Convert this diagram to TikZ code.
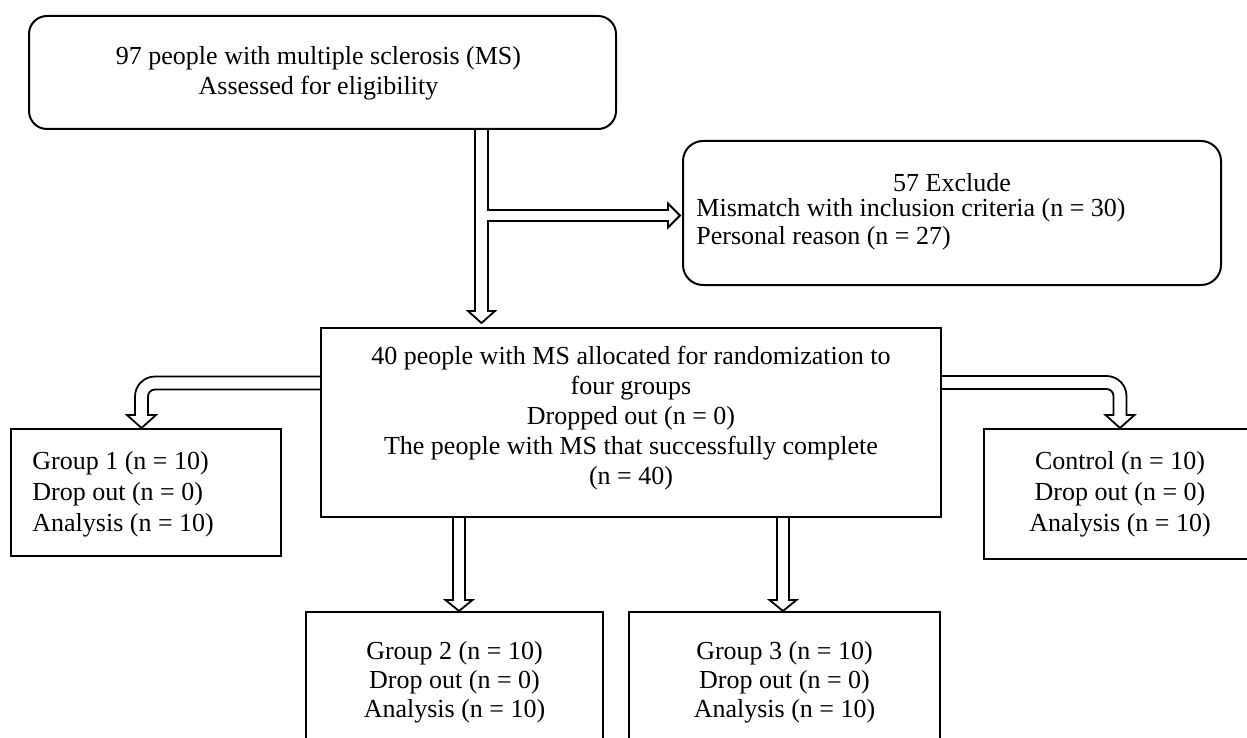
\documentclass[tikz,border=0pt]{standalone}
\usepackage{fontspec}
\setmainfont{Liberation Serif}
\usetikzlibrary{calc}
\pgfdeclarelayer{bg}
\pgfsetlayers{bg,main}
\newcommand\fs{\fontsize{13}{15}\selectfont}
\newcommand\fsb{\fontsize{13}{15.5}\selectfont}
\tikzset{
  box/.style={draw, line width=1pt, inner sep=0pt, anchor=north west, font=\fs, align=center},
  rbox/.style={box, rounded corners=9pt},
  txt/.style={inner sep=0pt, font=\fs},
  arr/.style={draw=black, fill=white, line width=0.9pt, line join=miter},
}
\begin{document}
\begin{tikzpicture}[x=0.5pt,y=-0.5pt]
\useasboundingbox (0,0) rectangle (1247,738);

% boxes
\node[rbox, minimum width=293.5pt, minimum height=56.5pt] (top) at (28,15) {};
\node[txt, align=center] (topt) at ($(top.center)+(-4,1)$)
  {97 people with multiple sclerosis (MS)\\Assessed for eligibility};
\node[rbox, rounded corners=10pt, minimum width=269pt, minimum height=72pt] (exc) at (682,140) {};
\node[txt] (exct) at ($(exc.north)+(0,43)$) {57 Exclude};
\node[txt, anchor=west, align=left, font=\fontsize{13}{14}\selectfont] (excl) at ($(exc.north west)+(14,84)$)
  {Mismatch with inclusion criteria (n = 30)\\Personal reason (n = 27)};
\node[box, minimum width=310pt, minimum height=94.5pt] (mid) at (320,327) {};
\node[txt, align=center] (midt) at ($(mid.center)+(0,-4)$)
  {40 people with MS allocated for randomization to\\four groups\\Dropped out (n = 0)\\The people with MS that successfully complete\\(n = 40)};
\node[box, minimum width=135pt, minimum height=63.5pt] (g1) at (10,428) {};
\node[txt, anchor=west, align=left, font=\fsb] (g1t) at ($(g1.north west)+(22,66)$)
  {Group 1 (n = 10)\\Drop out (n = 0)\\Analysis (n = 10)};
\node[box, minimum width=136pt, minimum height=65pt, font=\fsb] (ctl) at (983,428)
  {Control (n = 10)\\Drop out (n = 0)\\Analysis (n = 10)};
\node[box, minimum width=148.5pt, minimum height=70pt, font=\fontsize{13}{14.5}\selectfont] (g2) at (305,611)
  {Group 2 (n = 10)\\Drop out (n = 0)\\Analysis (n = 10)};
\node[box, minimum width=155.5pt, minimum height=70pt, font=\fontsize{13}{14.5}\selectfont] (g3) at (628,611)
  {Group 3 (n = 10)\\Drop out (n = 0)\\Analysis (n = 10)};

% connector end points
\coordinate (vS) at ($(top.south west)+(453.5,0)$);
\coordinate (vT) at ($(mid.north west)+(161.5,-4)$);
\coordinate (hS) at ($(vS)+(5.5,85.5)$);
\coordinate (hT) at ($(hS -| exc.west)+(-2,0)$);
\coordinate (lS) at ($(mid.north west)+(0,56)$);
\coordinate (lT) at ($(g1.north west)+(131.5,0)$);
\coordinate (lC) at (lS -| lT);
\coordinate (rS) at ($(mid.north east)+(0,55.5)$);
\coordinate (rT) at ($(ctl.north west)+(137,0)$);
\coordinate (rC) at (rS -| rT);
\coordinate (aS) at ($(mid.south west)+(139,0)$);
\coordinate (aT) at ($(g2.north west)+(154,0)$);
\coordinate (bS) at ($(mid.south west)+(463,0)$);
\coordinate (bT) at ($(g3.north west)+(155,0)$);

\begin{pgfonlayer}{bg}
% top -> mid
\filldraw[arr] ($(vS)+(-6.5,0)$) -- ($(vT)+(-6.5,-12)$) -- ($(vT)+(-13.5,-12)$) -- (vT)
  -- ($(vT)+(13.5,-12)$) -- ($(vT)+(6.5,-12)$) -- ($(vS)+(6.5,0)$);
% branch -> exclude
\filldraw[arr] ($(hS)+(0,-5.5)$) -- ($(hT)+(-12,-5.5)$) -- ($(hT)+(-12,-12)$) -- (hT)
  -- ($(hT)+(-12,12)$) -- ($(hT)+(-12,5.5)$) -- ($(hS)+(0,5.5)$);
% mid -> group 1
\filldraw[arr] ($(lS)+(0,-6.5)$) -- ($(lC)+(13.5,-6.5)$) arc[start angle=270,end angle=180,radius=20]
  -- ($(lT)+(-6.5,-13)$) -- ($(lT)+(-14.5,-13)$) -- (lT) -- ($(lT)+(14.5,-13)$) -- ($(lT)+(6.5,-13)$)
  -- ($(lC)+(6.5,13.5)$) arc[start angle=180,end angle=270,radius=7] -- ($(lS)+(0,6.5)$);
% mid -> control
\filldraw[arr] ($(rS)+(0,-6.5)$) -- ($(rC)+(-13.5,-6.5)$) arc[start angle=270,end angle=360,radius=20]
  -- ($(rT)+(6.5,-13)$) -- ($(rT)+(14.5,-13)$) -- (rT) -- ($(rT)+(-14.5,-13)$) -- ($(rT)+(-6.5,-13)$)
  -- ($(rC)+(-6.5,13.5)$) arc[start angle=0,end angle=-90,radius=7] -- ($(rS)+(0,6.5)$);
% mid -> group 2
\filldraw[arr] ($(aS)+(-6,0)$) -- ($(aT)+(-6,-11)$) -- ($(aT)+(-13.5,-11)$) -- (aT)
  -- ($(aT)+(13.5,-11)$) -- ($(aT)+(6,-11)$) -- ($(aS)+(6,0)$);
% mid -> group 3
\filldraw[arr] ($(bS)+(-6,0)$) -- ($(bT)+(-6,-11)$) -- ($(bT)+(-13.5,-11)$) -- (bT)
  -- ($(bT)+(13.5,-11)$) -- ($(bT)+(6,-11)$) -- ($(bS)+(6,0)$);
\end{pgfonlayer}
\end{tikzpicture}
\end{document}
